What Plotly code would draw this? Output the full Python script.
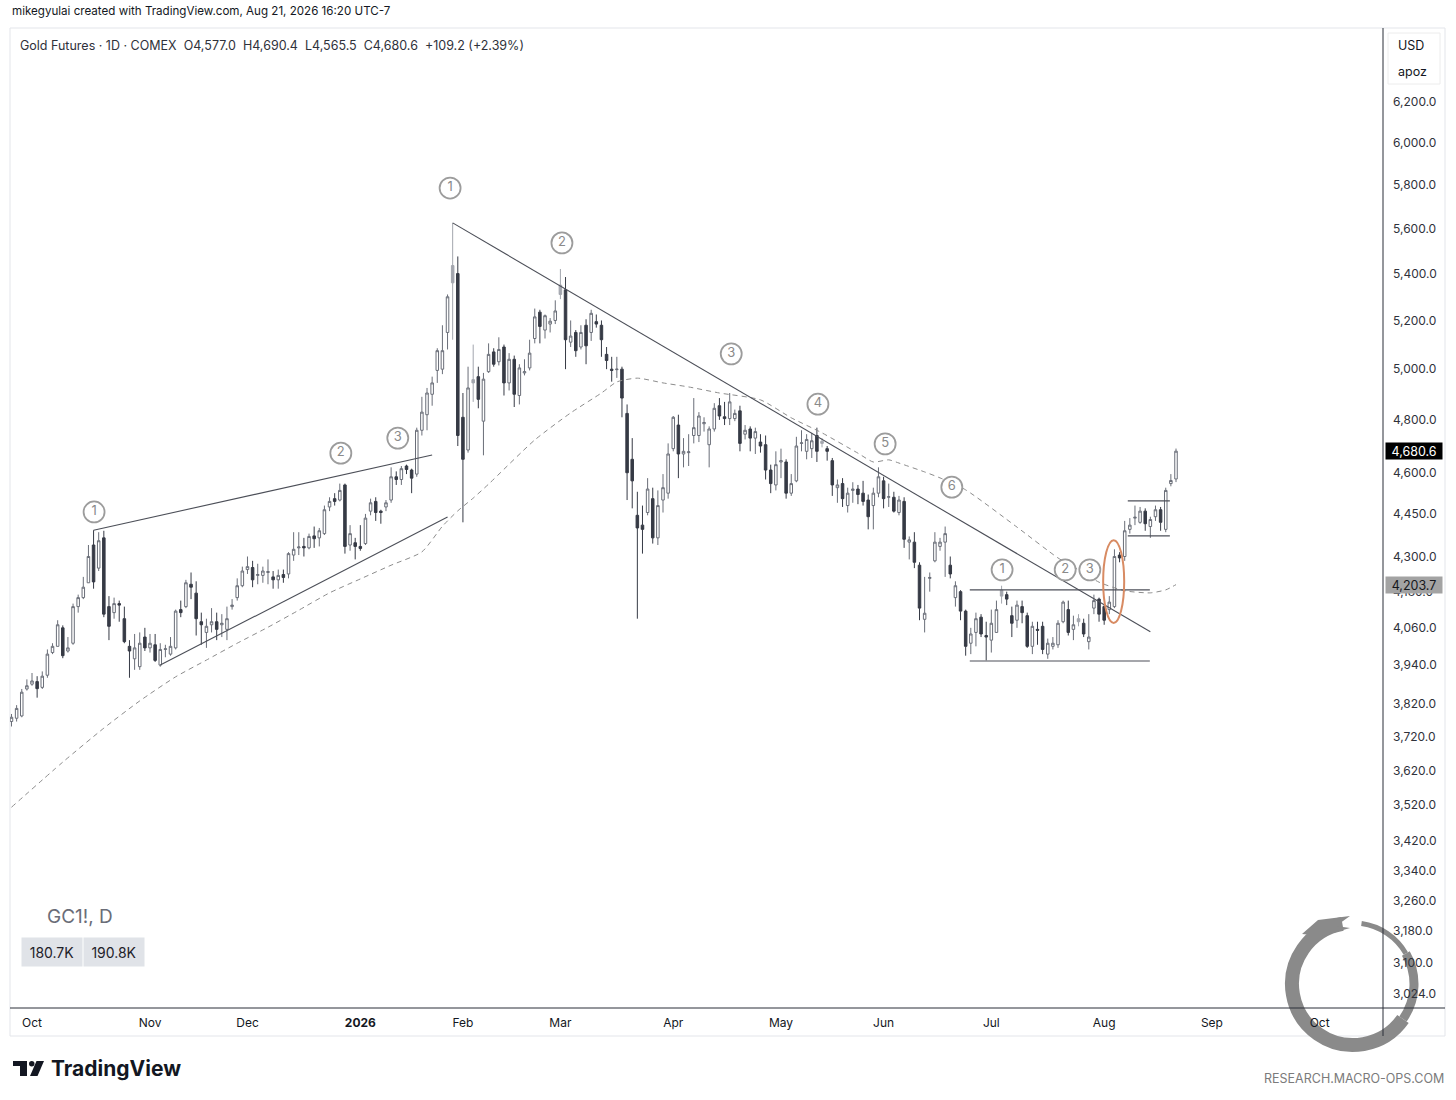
import math
import pandas as pd
import plotly.graph_objects as go

# ---------------- data ----------------
opens = [
    3765, 3775, 3782, 3865, 3880, 3888, 3870, 3908, 3980, 4000,
    4060, 3985, 4010, 4130, 4160, 4210, 4340, 4260, 4365, 4130,
    4110, 4140, 4090, 4000, 3960, 3935, 4030, 3995, 4005, 3940,
    3990, 3975, 3995, 4120, 4130, 4205, 4175, 4080, 4045, 4070,
    4080, 4070, 4055, 4130, 4160, 4200, 4255, 4262, 4235, 4235,
    4245, 4230, 4220, 4238, 4240, 4305, 4330, 4335, 4330, 4372,
    4365, 4380, 4475, 4505, 4500, 4555, 4340, 4348, 4335, 4345,
    4460, 4495, 4460, 4475, 4500, 4585, 4575, 4625, 4610, 4595,
    4760, 4820, 4900, 4995, 5000, 5150, 5435, 5400, 4810, 4685,
    4958, 4970, 4795, 4990, 5070, 5030, 5090, 4945, 5040, 4895,
    4985, 5005, 5125, 5235, 5160, 5185, 5200, 5350, 5330, 5110,
    5150, 5090, 5180, 5150, 5195, 5180, 5060, 5000, 4998, 5000,
    4825, 4650, 4445, 4410, 4455, 4505, 4365, 4500, 4525, 4690,
    4780, 4670, 4675, 4740, 4740, 4785, 4705, 4765, 4855, 4812,
    4805, 4805, 4835, 4745, 4765, 4730, 4715, 4705, 4610, 4555,
    4640, 4640, 4525, 4570, 4710, 4680, 4690, 4740, 4718, 4690,
    4645, 4545, 4560, 4480, 4535, 4540, 4525, 4500, 4480, 4525,
    4570, 4510, 4510, 4455, 4495, 4350, 4350, 4270, 4088, 4225,
    4285, 4335, 4350, 4270, 4160, 4180, 4115, 4010, 4045, 4095,
    4035, 4020, 4045, 4185, 4170, 4100, 4085, 4130, 4100, 4000,
    4055, 4065, 3975, 4000, 4005, 4080, 4120, 4055, 4090, 4075,
    4015, 4125, 4155, 4130, 4120, 4130, 4305, 4300, 4395, 4435,
    4420, 4460, 4405, 4440, 4465, 4395, 4560, 4577.0,
]
highs = [
    3788, 3815, 3865, 3895, 3915, 3905, 3920, 3990, 4010, 4085,
    4068, 4030, 4140, 4170, 4230, 4340, 4392, 4385, 4390, 4165,
    4160, 4150, 4130, 4020, 4040, 4045, 4060, 4040, 4040, 4010,
    4005, 4030, 4120, 4150, 4220, 4245, 4215, 4110, 4090, 4125,
    4110, 4105, 4130, 4155, 4225, 4265, 4300, 4285, 4275, 4265,
    4290, 4250, 4255, 4255, 4315, 4385, 4385, 4365, 4380, 4405,
    4400, 4480, 4510, 4525, 4560, 4560, 4410, 4365, 4410, 4450,
    4505, 4510, 4465, 4500, 4620, 4605, 4625, 4630, 4615, 4770,
    4890, 4925, 4970, 5085, 5180, 5310, 5625, 5475, 4905, 5010,
    5100, 5010, 4985, 5105, 5085, 5130, 5100, 5065, 5055, 5020,
    5040, 5120, 5250, 5245, 5225, 5210, 5285, 5420, 5385, 5200,
    5160, 5180, 5205, 5245, 5225, 5200, 5090, 5050, 5050, 5010,
    4860, 4730, 4530, 4480, 4580, 4545, 4535, 4595, 4710, 4815,
    4820, 4730, 4745, 4885, 4830, 4810, 4775, 4865, 4885, 4870,
    4905, 4840, 4855, 4780, 4775, 4770, 4745, 4740, 4630, 4680,
    4690, 4650, 4595, 4735, 4760, 4745, 4750, 4770, 4730, 4700,
    4655, 4575, 4580, 4545, 4565, 4555, 4570, 4520, 4545, 4620,
    4585, 4560, 4530, 4515, 4510, 4370, 4385, 4280, 4230, 4245,
    4385, 4365, 4405, 4300, 4215, 4185, 4120, 4060, 4110, 4105,
    4080, 4120, 4150, 4200, 4180, 4130, 4150, 4150, 4110, 4080,
    4080, 4080, 4025, 4030, 4085, 4150, 4150, 4100, 4105, 4090,
    4105, 4170, 4160, 4135, 4165, 4325, 4315, 4425, 4435, 4480,
    4475, 4470, 4440, 4480, 4475, 4545, 4595, 4690.4,
]
lows = [
    3750, 3765, 3778, 3860, 3875, 3838, 3865, 3900, 3975, 4000,
    3962, 3980, 4005, 4110, 4155, 4210, 4190, 4250, 4095, 4020,
    4090, 4080, 4010, 3900, 3925, 3925, 3985, 3980, 3950, 3935,
    3965, 3970, 3990, 4095, 4125, 4155, 4035, 4005, 3995, 4045,
    4020, 4030, 4020, 4120, 4150, 4195, 4240, 4195, 4205, 4210,
    4205, 4190, 4190, 4210, 4225, 4285, 4305, 4300, 4325, 4330,
    4335, 4375, 4460, 4480, 4495, 4310, 4320, 4290, 4320, 4340,
    4445, 4425, 4415, 4460, 4490, 4555, 4555, 4595, 4525, 4585,
    4740, 4760, 4855, 4945, 4980, 5080, 5120, 4700, 4420, 4675,
    4870, 4845, 4665, 4985, 5010, 5015, 4895, 4915, 4850, 4860,
    4975, 4995, 5105, 5105, 5125, 5150, 5185, 5290, 5000, 5090,
    5050, 5080, 5020, 5115, 5170, 5050, 5000, 4950, 4965, 4810,
    4500, 4470, 4090, 4310, 4445, 4345, 4340, 4455, 4505, 4680,
    4580, 4620, 4625, 4710, 4715, 4755, 4620, 4755, 4800, 4780,
    4780, 4795, 4680, 4725, 4680, 4670, 4675, 4575, 4525, 4535,
    4580, 4505, 4515, 4565, 4680, 4650, 4655, 4640, 4695, 4645,
    4515, 4490, 4475, 4455, 4490, 4485, 4480, 4395, 4395, 4510,
    4470, 4475, 4455, 4445, 4330, 4290, 4260, 4085, 4045, 4180,
    4280, 4320, 4230, 4225, 4130, 4085, 3970, 3975, 4000, 4030,
    3955, 3980, 4045, 4140, 4135, 4030, 4060, 4075, 3995, 3975,
    4005, 3975, 3960, 3990, 3995, 4075, 4035, 4020, 4065, 4030,
    3990, 4105, 4080, 4070, 4105, 4125, 4280, 4285, 4380, 4410,
    4415, 4390, 4365, 4425, 4390, 4385, 4550, 4565.5,
]
closes = [
    3778, 3805, 3855, 3875, 3890, 3866, 3905, 3975, 4000, 4070,
    3970, 3995, 4130, 4160, 4195, 4300, 4213, 4355, 4105, 4065,
    4140, 4135, 4015, 3985, 3995, 4010, 3995, 4010, 3955, 3990,
    3992, 4000, 4115, 4110, 4210, 4195, 4090, 4070, 4065, 4080,
    4055, 4075, 4090, 4135, 4200, 4250, 4265, 4220, 4238, 4250,
    4248, 4220, 4235, 4228, 4310, 4325, 4333, 4330, 4370, 4362,
    4390, 4465, 4495, 4495, 4535, 4335, 4380, 4335, 4328, 4435,
    4490, 4455, 4455, 4490, 4585, 4575, 4615, 4612, 4580, 4760,
    4830, 4905, 4945, 5075, 5075, 5300, 5360, 4740, 4650, 4925,
    4945, 4880, 4960, 5060, 5020, 5080, 4945, 5040, 4900, 5005,
    4990, 5065, 5215, 5175, 5220, 5197, 5240, 5310, 5120, 5135,
    5075, 5150, 5095, 5230, 5185, 5120, 5035, 4995, 5000, 4885,
    4600, 4570, 4400, 4395, 4540, 4365, 4480, 4545, 4670, 4810,
    4670, 4680, 4678, 4770, 4815, 4790, 4765, 4845, 4815, 4805,
    4870, 4825, 4710, 4760, 4730, 4755, 4700, 4610, 4560, 4630,
    4645, 4525, 4560, 4700, 4712, 4725, 4720, 4680, 4710, 4680,
    4555, 4555, 4505, 4525, 4540, 4520, 4495, 4440, 4525, 4585,
    4505, 4512, 4460, 4500, 4360, 4358, 4280, 4125, 4108, 4228,
    4350, 4350, 4380, 4240, 4200, 4115, 4000, 4040, 4090, 4040,
    4030, 4075, 4120, 4165, 4155, 4075, 4135, 4110, 4000, 4065,
    4052, 3990, 4010, 4010, 4075, 4145, 4045, 4070, 4080, 4040,
    4030, 4150, 4105, 4085, 4145, 4300, 4295, 4390, 4410, 4438,
    4460, 4415, 4430, 4465, 4420, 4535, 4571.4, 4680.6,
]
gray_bars = [86, 90, 107, 158, 193, 208]

# 50-day moving average, read at selected bars
ma_idx = [0, 10, 18, 25, 32, 38, 44, 50, 56, 62, 68, 74, 80, 84, 87, 90, 93, 102, 109, 115,
          118, 122, 127, 132, 138, 146, 152, 158, 165, 168, 171, 173, 178, 181, 186, 196,
          204, 208, 212, 217, 222, 225, 227]
ma_val = [3514, 3644, 3745, 3828, 3903, 3956, 4010, 4062, 4118, 4176, 4223, 4270, 4316, 4406,
          4461, 4507, 4558, 4723, 4827, 4905, 4949, 4964, 4945, 4929, 4905, 4878, 4808, 4750,
          4673, 4640, 4648, 4636, 4603, 4581, 4537, 4403, 4295, 4254, 4212, 4183, 4176, 4186,
          4203.7]

# drawn trend lines: (bar positions, prices)
wedge_top_x, wedge_top_y = [16, 82], [4392, 4666]
wedge_bot_x, wedge_bot_y = [29, 85], [3940, 4439]
down_x, down_y = [86, 222], [5625, 4047]
resist_x, resist_y = [186.8, 221.9], [4186, 4186]
support_x, support_y = [186.8, 221.9], [3953, 3953]
flag_top_x, flag_top_y = [217.6, 225.8], [4497, 4497]
flag_bot_x, flag_bot_y = [217.6, 225.8], [4372, 4372]
ellipse_x, ellipse_y = [212.8, 216.9], [4076, 4357]

# circled wave counts
count_text = ["1", "2", "3", "1", "2", "3", "4", "5", "6", "1", "2", "3"]
count_x = [16.1, 64.2, 75.3, 85.5, 107.3, 140.3, 157.2, 170.3, 183.3, 193.1, 205.4, 210.2]
count_y = [4457, 4673, 4730, 5785, 5535, 5062, 4861, 4708, 4547, 4254, 4254, 4254]

# price axis ticks
y_ticks = [6200, 6000, 5800, 5600, 5400, 5200, 5000, 4800, 4600, 4450, 4300, 4180, 4060,
           3940, 3820, 3720, 3620, 3520, 3420, 3340, 3260, 3180, 3100, 3024]
y_tick_text = [f"{v:,.1f}" for v in y_ticks]

ma_last = 4203.7
volumes = ["180.7K", "190.8K"]

# trading calendar (holidays without a daily bar)
holidays = pd.to_datetime(["2025-11-27", "2025-12-25", "2026-01-01", "2026-01-19", "2026-02-16",
                           "2026-04-03", "2026-05-25", "2026-06-19", "2026-07-03", "2026-09-07"])
days = pd.bdate_range("2025-09-25", "2026-10-30")
days = days[~days.isin(holidays)]

tick_pos, tick_lbl = [], []
seen = set()
for i, d in enumerate(days):
    key = (d.year, d.month)
    if key in seen:
        continue
    seen.add(key)
    if d < pd.Timestamp("2025-10-01"):
        continue
    tick_pos.append(i)
    tick_lbl.append("<b>2026</b>" if (d.month == 1) else d.strftime("%b"))

# ---------------- figure ----------------
W, H = 1456, 1100
PL, PR, PT, PB = 10, 1383, 30, 1008   # plot box in window pixels
FONT = "Inter, Roboto, sans-serif"


def pxx(x):
    return (x - PL) / (PR - PL)


def pyy(y):
    return (PB - y) / (PB - PT)


n = len(opens)
main_idx = [i for i in range(n) if i not in gray_bars]

fig = go.Figure()
fig.add_trace(go.Candlestick(
    x=main_idx,
    open=[opens[i] for i in main_idx], high=[highs[i] for i in main_idx],
    low=[lows[i] for i in main_idx], close=[closes[i] for i in main_idx],
    increasing=dict(line=dict(color="#6a6e78", width=1), fillcolor="#ffffff"),
    decreasing=dict(line=dict(color="#363a45", width=1), fillcolor="#363a45"),
    whiskerwidth=0, hoverinfo="skip", showlegend=False))
fig.add_trace(go.Candlestick(
    x=gray_bars,
    open=[opens[i] for i in gray_bars], high=[highs[i] for i in gray_bars],
    low=[lows[i] for i in gray_bars], close=[closes[i] for i in gray_bars],
    increasing=dict(line=dict(color="#a3a6ae", width=1), fillcolor="#a3a6ae"),
    decreasing=dict(line=dict(color="#a3a6ae", width=1), fillcolor="#a3a6ae"),
    whiskerwidth=0, hoverinfo="skip", showlegend=False))

fig.add_trace(go.Scatter(x=ma_idx, y=ma_val, mode="lines",
                         line=dict(color="#8c8c8c", width=1, dash="5px,4px", shape="spline", smoothing=0.6),
                         hoverinfo="skip", showlegend=False))

for xs, ys in [(wedge_top_x, wedge_top_y), (wedge_bot_x, wedge_bot_y), (down_x, down_y),
               (resist_x, resist_y), (support_x, support_y),
               (flag_top_x, flag_top_y), (flag_bot_x, flag_bot_y)]:
    fig.add_trace(go.Scatter(x=xs, y=ys, mode="lines", line=dict(color="#4c4f58", width=1.1),
                             hoverinfo="skip", showlegend=False))

fig.add_trace(go.Scatter(x=count_x, y=count_y, mode="markers+text", text=count_text,
                         textposition="middle center",
                         textfont=dict(family=FONT, size=13, color="#8a8a8a"),
                         marker=dict(symbol="circle", size=21, color="white",
                                     line=dict(color="#9c9c9c", width=1.8)),
                         hoverinfo="skip", showlegend=False))

shapes = []
# orange ellipse around breakout
shapes.append(dict(type="circle", xref="x", yref="y", x0=ellipse_x[0], x1=ellipse_x[1],
                   y0=ellipse_y[0], y1=ellipse_y[1], line=dict(color="#d88b63", width=2)))
# frame
shapes.append(dict(type="rect", xref="paper", yref="paper", x0=pxx(10), x1=pxx(1445),
                   y0=pyy(1036), y1=pyy(28), line=dict(color="#e3e5ea", width=1), layer="below"))
shapes.append(dict(type="line", xref="paper", yref="paper", x0=pxx(1383), x1=pxx(1383),
                   y0=pyy(1036), y1=pyy(28), line=dict(color="#2a2e39", width=1)))
shapes.append(dict(type="line", xref="paper", yref="paper", x0=pxx(10), x1=pxx(1445),
                   y0=pyy(1008), y1=pyy(1008), line=dict(color="#2a2e39", width=1)))
# USD box
shapes.append(dict(type="rect", xref="paper", yref="paper", x0=pxx(1388), x1=pxx(1440),
                   y0=pyy(84), y1=pyy(33), line=dict(color="#ececec", width=1), layer="below"))


# watermark ring (ouroboros style)
def arc_path(cx, cy, r, a0, a1):
    nseg = max(1, int(math.ceil(abs(a1 - a0) / 45.0)))
    step = math.radians((a1 - a0) / nseg)
    t = math.radians(a0)
    x0, y0 = cx + r * math.cos(t), cy - r * math.sin(t)
    p = pxx(x0), pyy(y0)
    s = f"M {p[0]:.5f},{p[1]:.5f}"
    k = 4.0 / 3.0 * math.tan(step / 4.0) * r
    for _ in range(nseg):
        t1 = t + step
        x3, y3 = cx + r * math.cos(t1), cy - r * math.sin(t1)
        c1 = (x0 - k * math.sin(t), y0 - k * math.cos(t))
        c2 = (x3 + k * math.sin(t1), y3 + k * math.cos(t1))
        a, b, c = (pxx(c1[0]), pyy(c1[1])), (pxx(c2[0]), pyy(c2[1])), (pxx(x3), pyy(y3))
        s += f" C {a[0]:.5f},{a[1]:.5f} {b[0]:.5f},{b[1]:.5f} {c[0]:.5f},{c[1]:.5f}"
        t, x0, y0 = t1, x3, y3
    return s


ring_c = (1353, 984, 61)
for a0, a1, wdt in [(100, 325, 14), (325, 390, 9), (390, 442, 5)]:
    shapes.append(dict(type="path", xref="paper", yref="paper",
                       path=arc_path(ring_c[0], ring_c[1], ring_c[2], a0, a1),
                       line=dict(color="#8a8a8a", width=wdt), layer="below"))
# head of the ring
shapes.append(dict(type="path", xref="paper", yref="paper",
                   path=(f"M {pxx(1302)},{pyy(934)} L {pxx(1318)},{pyy(920)} L {pxx(1350)},{pyy(916)} "
                         f"L {pxx(1336)},{pyy(926)} L {pxx(1350)},{pyy(928)} L {pxx(1322)},{pyy(936)} Z"),
                   fillcolor="#8a8a8a", line=dict(width=0), layer="below"))
# TradingView logo mark
shapes.append(dict(type="rect", xref="paper", yref="paper", x0=pxx(13), x1=pxx(27),
                   y0=pyy(1066), y1=pyy(1061), fillcolor="#131722", line=dict(width=0)))
shapes.append(dict(type="rect", xref="paper", yref="paper", x0=pxx(20), x1=pxx(27),
                   y0=pyy(1076), y1=pyy(1061), fillcolor="#131722", line=dict(width=0)))
shapes.append(dict(type="circle", xref="paper", yref="paper", x0=pxx(29), x1=pxx(34.5),
                   y0=pyy(1066.5), y1=pyy(1061), fillcolor="#131722", line=dict(width=0)))
shapes.append(dict(type="path", xref="paper", yref="paper",
                   path=(f"M {pxx(36.5)},{pyy(1061)} L {pxx(44)},{pyy(1061)} "
                         f"L {pxx(37.5)},{pyy(1076)} L {pxx(30)},{pyy(1076)} Z"),
                   fillcolor="#131722", line=dict(width=0)))

chg = closes[-1] - closes[-2]
pct = chg / closes[-2] * 100
NB = "\u00a0"
legend_txt = (f"Gold Futures · 1D · COMEX{NB}{NB}O{opens[-1]:,.1f}{NB}{NB}H{highs[-1]:,.1f}"
              f"{NB}{NB}L{lows[-1]:,.1f}{NB}{NB}C{closes[-1]:,.1f}{NB}{NB}{chg:+.1f} ({pct:+.2f}%)")

ann = []
ann.append(dict(text="mikegyulai created with TradingView.com, Aug 21, 2026 16:20 UTC-7",
                xref="paper", yref="paper", x=pxx(10), y=pyy(11), xanchor="left", yanchor="middle",
                showarrow=False, font=dict(family=FONT, size=11.6, color="#131722")))
ann.append(dict(text=legend_txt, xref="paper", yref="paper", x=pxx(18), y=pyy(45),
                xanchor="left", yanchor="middle", showarrow=False,
                font=dict(family=FONT, size=12.5, color="#2f323b")))
ann.append(dict(text="USD", xref="paper", yref="paper", x=pxx(1396), y=pyy(45), xanchor="left",
                yanchor="middle", showarrow=False, font=dict(family=FONT, size=12.5, color="#131722")))
ann.append(dict(text="apoz", xref="paper", yref="paper", x=pxx(1396), y=pyy(71), xanchor="left",
                yanchor="middle", showarrow=False, font=dict(family=FONT, size=12.5, color="#131722")))
ann.append(dict(text="GC1!, D", xref="paper", yref="paper", x=pxx(45), y=pyy(916), xanchor="left",
                yanchor="middle", showarrow=False, font=dict(family=FONT, size=19, color="#6a6d78")))
for j, v in enumerate(volumes):
    ann.append(dict(text=v, xref="paper", yref="paper", x=pxx(21 + 62 * j), y=pyy(952),
                    xanchor="left", yanchor="middle", showarrow=False, width=60, height=28,
                    bgcolor="#e0e3e8", borderpad=0,
                    font=dict(family=FONT, size=14, color="#1e2129")))
ann.append(dict(text="<b>TradingView</b>", xref="paper", yref="paper", x=pxx(49), y=pyy(1068),
                xanchor="left", yanchor="middle", showarrow=False,
                font=dict(family=FONT, size=21, color="#131722")))
ann.append(dict(text="RESEARCH.MACRO-OPS.COM", xref="paper", yref="paper", x=pxx(1446), y=pyy(1078),
                xanchor="right", yanchor="middle", showarrow=False,
                font=dict(family=FONT, size=12.5, color="#7b7b7b")))
# price labels on the axis
ann.append(dict(text=f"{closes[-1]:,.1f}", xref="paper", yref="y", x=1.0, xshift=2,
                y=math.log10(closes[-1]), xanchor="left", yanchor="middle", showarrow=False,
                width=56, height=16, bgcolor="#000000", borderpad=0,
                font=dict(family=FONT, size=12.5, color="#ffffff")))
ann.append(dict(text=f"{ma_last:,.1f}", xref="paper", yref="y", x=1.0, xshift=2,
                y=math.log10(ma_last), xanchor="left", yanchor="middle", showarrow=False,
                width=56, height=16, bgcolor="#a3a3a3", borderpad=0,
                font=dict(family=FONT, size=12.5, color="#16181d")))

fig.update_layout(
    width=W, height=H,
    margin=dict(l=PL, r=W - PR, t=PT, b=H - PB),
    paper_bgcolor="white", plot_bgcolor="white",
    showlegend=False, font=dict(family=FONT),
    shapes=shapes, annotations=ann,
    xaxis=dict(range=[-0.29, 267.35], tickmode="array", tickvals=tick_pos, ticktext=tick_lbl,
               showgrid=False, zeroline=False, showline=False, ticks="",
               tickfont=dict(family=FONT, size=12, color="#131722"),
               rangeslider=dict(visible=False), automargin=False, ticklabelstandoff=6),
    yaxis=dict(type="log", range=[math.log10(2989.5), math.log10(6570.0)], side="right",
               tickmode="array", tickvals=y_ticks, ticktext=y_tick_text,
               showgrid=False, zeroline=False, showline=False, ticks="",
               tickfont=dict(family=FONT, size=12, color="#2f323b"),
               automargin=False, ticklabelstandoff=9),
)

# remove the page's default body margin so the figure fills the window exactly
fig.write_html("out.html", config={"displayModeBar": False},
               post_script="document.body.style.margin='0px';document.body.style.overflow='hidden';")
